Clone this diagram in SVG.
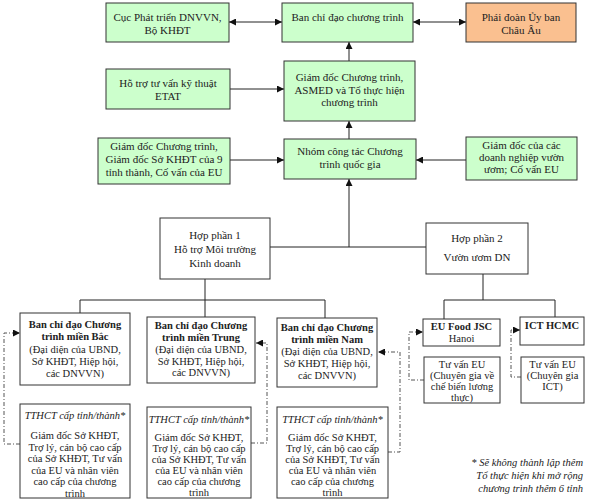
<svg xmlns="http://www.w3.org/2000/svg" width="596" height="503" viewBox="0 0 596 503">
<style>
text{font-family:"Liberation Serif","Times New Roman",serif;font-size:11px;fill:#222;text-anchor:middle}
.g{fill:#ccffcc;stroke:#333;stroke-width:1}
.o{fill:#fac090;stroke:#333;stroke-width:1}
.w{fill:#fff;stroke:#333;stroke-width:1}
.b{font-weight:bold}
.i{font-style:italic}
.s{font-size:10.5px}
.ln{fill:none;stroke:#222;stroke-width:1}
.d{fill:none;stroke:#555;stroke-width:1;stroke-dasharray:4,2,1,2}
.fn{font-style:italic;text-anchor:end;font-size:10.5px}
</style>
<defs>
<marker id="ah" viewBox="0 0 8 8" refX="8" refY="4" markerWidth="7" markerHeight="7" markerUnits="userSpaceOnUse" orient="auto-start-reverse">
<path d="M0,0 L8,4 L0,8 z" fill="#111"/>
</marker>
</defs>
<rect width="596" height="503" fill="#fff"/>
<g id="connectors">
<line class="ln" x1="229" y1="22" x2="282" y2="22" marker-start="url(#ah)" marker-end="url(#ah)"/>
<line class="ln" x1="413" y1="22" x2="466" y2="22" marker-start="url(#ah)" marker-end="url(#ah)"/>
<line class="ln" x1="230" y1="89" x2="284" y2="89" marker-end="url(#ah)"/>
<line class="ln" x1="349" y1="61" x2="349" y2="42" marker-end="url(#ah)"/>
<line class="ln" x1="349" y1="139" x2="349" y2="121" marker-end="url(#ah)"/>
<line class="ln" x1="230" y1="160" x2="284" y2="160" marker-end="url(#ah)"/>
<line class="ln" x1="466" y1="160" x2="416" y2="160" marker-end="url(#ah)"/>
<line class="ln" x1="270" y1="247" x2="426" y2="247"/>
<line class="ln" x1="349" y1="247" x2="349" y2="179" marker-end="url(#ah)"/>
<path class="ln" d="M205,279 V300 M80,313 V300 H325 V318 M205,300 V317"/>
<path class="ln" d="M483,274 V300 M444,319 V300 H555 V317"/>
<path class="d" d="M20,444 H4 V333 H20" marker-end="url(#ah)"/>
<path class="d" d="M251,443 H267 V343 H256" marker-end="url(#ah)"/>
<path class="d" d="M388,452 H400 V352 H378" marker-end="url(#ah)"/>
<path class="d" d="M424,380 H409 V332 H423" marker-end="url(#ah)"/>
<path class="d" d="M521,377 H511 V330 H520" marker-end="url(#ah)"/>
</g>
<g id="cuc"><rect class="g" x="106" y="3" width="123" height="39"/>
<text x="167.5" y="21">Cục Phát triển DNVVN,</text><text x="167.5" y="34">Bộ KHĐT</text></g>
<g id="banchidao"><rect class="g" x="282" y="3" width="131" height="39"/>
<text x="347.5" y="21">Ban chỉ đạo chương trình</text></g>
<g id="phaidoan"><rect class="o" x="466" y="3" width="110" height="39"/>
<text x="521" y="21">Phái đoàn Ủy ban</text><text x="521" y="34">Châu Âu</text></g>
<g id="hotro"><rect class="g" x="106" y="69" width="124" height="40"/>
<text x="168" y="87">Hỗ trợ tư vấn kỹ thuật</text><text x="168" y="100">ETAT</text></g>
<g id="giamdoc"><rect class="g" x="284" y="61" width="131" height="60"/>
<text x="349.5" y="81">Giám đốc Chương trình,</text><text x="349.5" y="94">ASMED và Tổ thực hiện</text><text x="349.5" y="106">chương trình</text></g>
<g id="giamdoc9"><rect class="g" x="98" y="138" width="132" height="46"/>
<text x="164" y="150">Giám đốc Chương trình,</text><text x="164" y="163">Giám đốc Sở KHĐT của 9</text><text x="164" y="176">tỉnh thành, Cố vấn của EU</text></g>
<g id="nhom"><rect class="g" x="284" y="139" width="132" height="40"/>
<text x="350" y="155">Nhóm công tác Chương</text><text x="350" y="168">trình quốc gia</text></g>
<g id="giamdocdn"><rect class="g" x="466" y="137" width="111" height="43"/>
<text x="521.5" y="149">Giám đốc của các</text><text x="521.5" y="161">doanh nghiệp vườn</text><text x="521.5" y="173">ươm; Cố vấn EU</text></g>
<g id="hopphan1"><rect class="w" x="160" y="218" width="110" height="61"/>
<text x="215" y="239">Hợp phần 1</text><text x="215" y="253">Hỗ trợ Môi trường</text><text x="215" y="267">Kinh doanh</text></g>
<g id="hopphan2"><rect class="w" x="426" y="223" width="102" height="51"/>
<text x="477" y="242">Hợp phần 2</text><text x="477" y="261">Vườn ươm DN</text></g>
<g id="bac"><rect class="w" x="20" y="313" width="110" height="72"/>
<text class="b s" x="75" y="328">Ban chỉ đạo Chương</text><text class="b s" x="75" y="340">trình miền Bắc</text>
<text class="s" x="75" y="353">(Đại diện của UBND,</text><text class="s" x="75" y="365">Sở KHĐT, Hiệp hội,</text><text class="s" x="75" y="377">các DNVVN)</text></g>
<g id="trung"><rect class="w" x="147" y="317" width="108" height="66"/>
<text class="b s" x="201" y="329">Ban chỉ đạo Chương</text><text class="b s" x="201" y="341">trình miền Trung</text>
<text class="s" x="201" y="353">(Đại diện của UBND,</text><text class="s" x="201" y="365">Sở KHĐT, Hiệp hội,</text><text class="s" x="201" y="376">các DNVVN)</text></g>
<g id="nam"><rect class="w" x="277" y="318" width="100" height="69"/>
<text class="b s" x="327" y="331">Ban chỉ đạo Chương</text><text class="b s" x="327" y="343">trình miền Nam</text>
<text class="s" x="327" y="355">(Đại diện của UBND,</text><text class="s" x="327" y="367">Sở KHĐT, Hiệp hội,</text><text class="s" x="327" y="379">các DNVVN)</text></g>
<g id="tthct1"><rect class="w" x="20" y="404" width="110" height="94"/>
<text class="i s" x="75" y="419">TTHCT cấp tỉnh/thành*</text>
<text class="s" x="75" y="439">Giám đốc Sở KHĐT,</text><text class="s" x="75" y="450.5">Trợ lý, cán bộ cao cấp</text><text class="s" x="75" y="462">của Sở KHĐT, Tư vấn</text><text class="s" x="75" y="473.5">của EU và nhân viên</text><text class="s" x="75" y="485">cao cấp của chương</text><text class="s" x="75" y="496.5">trình</text></g>
<g id="tthct2"><rect class="w" x="147" y="407" width="104" height="91"/>
<text class="i s" x="199" y="423">TTHCT cấp tỉnh/thành*</text>
<text class="s" x="199" y="441">Giám đốc Sở KHĐT,</text><text class="s" x="199" y="452">Trợ lý, cán bộ cao cấp</text><text class="s" x="199" y="463">của Sở KHĐT, Tư vấn</text><text class="s" x="199" y="474">của EU và nhân viên</text><text class="s" x="199" y="485">cao cấp của chương</text><text class="s" x="199" y="496">trình</text></g>
<g id="tthct3"><rect class="w" x="277" y="407" width="111" height="91"/>
<text class="i s" x="332.5" y="423">TTHCT cấp tỉnh/thành*</text>
<text class="s" x="332.5" y="441">Giám đốc Sở KHĐT,</text><text class="s" x="332.5" y="452">Trợ lý, cán bộ cao cấp</text><text class="s" x="332.5" y="463">của Sở KHĐT, Tư vấn</text><text class="s" x="332.5" y="474">của EU và nhân viên</text><text class="s" x="332.5" y="485">cao cấp của chương</text><text class="s" x="332.5" y="496">trình</text></g>
<g id="eufood"><rect class="w" x="423" y="319" width="77" height="27"/>
<text class="b s" x="461.5" y="330">EU Food JSC</text><text class="s" x="461.5" y="342">Hanoi</text></g>
<g id="icthcmc"><rect class="w" x="520" y="317" width="64" height="28"/>
<text class="b s" x="552" y="329">ICT HCMC</text></g>
<g id="tuvanfood"><rect class="w" x="424" y="357" width="76" height="46"/>
<text class="s" x="462" y="368">Tư vấn EU</text><text class="s" x="462" y="379">(Chuyên gia về</text><text class="s" x="462" y="390">chế biến lương</text><text class="s" x="462" y="401">thực)</text></g>
<g id="tuvanict"><rect class="w" x="521" y="357" width="63" height="46"/>
<text class="s" x="552.5" y="368">Tư vấn EU</text><text class="s" x="552.5" y="379">(Chuyên gia</text><text class="s" x="552.5" y="390">ICT)</text></g>
<g id="footnote">
<text class="fn" x="583" y="466">* Sẽ không thành lập thêm</text>
<text class="fn" x="583" y="479">Tổ thực hiện khi mở rộng</text>
<text class="fn" x="583" y="492">chương trình thêm 6 tỉnh</text>
</g>
</svg>
